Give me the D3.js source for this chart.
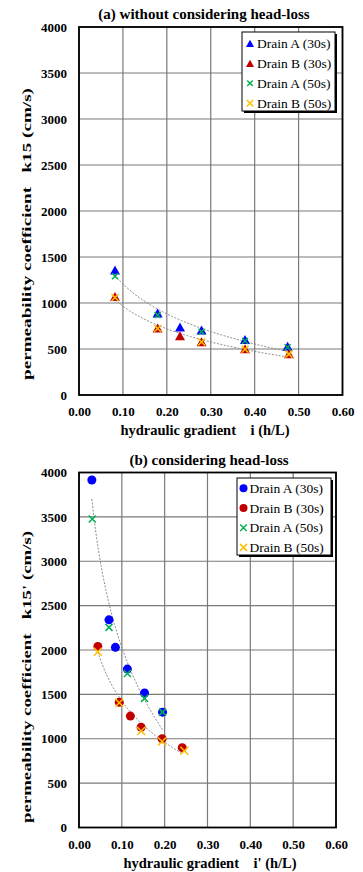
<!DOCTYPE html>
<html>
<head>
<meta charset="utf-8">
<script src="https://cdn.jsdelivr.net/npm/d3@7"></script>
<style>
  body { margin: 0; background: #fff; }
</style>
</head>
<body>
<div id="chart"></div>
<script>
const seriesNames = ['Drain A (30s)', 'Drain B (30s)', 'Drain A (50s)', 'Drain B (50s)'];
const seriesColors = ['#0000ff', '#c00000', '#00b050', '#ffc000'];
const xTickValues = [0, 0.1, 0.2, 0.3, 0.4, 0.5, 0.6];
const yTickValues = [0, 500, 1000, 1500, 2000, 2500, 3000, 3500, 4000];

// (a) without considering head-loss
const gradA30 = [0.082, 0.179, 0.230, 0.279, 0.378, 0.475];
const permA30 = [1360, 890, 740, 707, 603, 530];
const gradB30 = [0.082, 0.179, 0.230, 0.279, 0.378, 0.478];
const permB30 = [1070, 728, 643, 580, 503, 448];
const gradA50 = [0.082, 0.179, 0.279, 0.378, 0.475];
const permA50 = [1290, 870, 688, 587, 520];
const gradB50 = [0.082, 0.179, 0.279, 0.378, 0.478];
const permB50 = [1060, 722, 576, 497, 444];

// (b) considering head-loss
const gradA30h = [0.030, 0.070, 0.085, 0.113, 0.153, 0.195];
const permA30h = [3915, 2340, 2030, 1785, 1515, 1300];
const gradB30h = [0.044, 0.094, 0.120, 0.145, 0.194, 0.241];
const permB30h = [2040, 1410, 1255, 1130, 1000, 900];
const gradA50h = [0.031, 0.070, 0.113, 0.153, 0.195];
const permA50h = [3475, 2255, 1735, 1455, 1300];
const gradB50h = [0.044, 0.094, 0.145, 0.194, 0.246];
const permB50h = [1980, 1405, 1088, 968, 865];

const serif = "'Liberation Serif', 'Times New Roman', 'DejaVu Serif', serif";

const svg = d3
  .select('#chart')
  .append('svg')
  .attr('width', 363)
  .attr('height', 872)
  .style('font-family', serif);

function zip(xs, ys) {
  return xs.map((v, i) => ({ i: v, k: ys[i] }));
}

// least squares fit of k = a + b*ln(i), like the excel log trendline
function logFit(pts) {
  const lx = pts.map((d) => Math.log(d.i));
  const mx = d3.mean(lx);
  const my = d3.mean(pts, (d) => d.k);
  let sxy = 0,
    sxx = 0;
  pts.forEach((d, j) => {
    sxy += (lx[j] - mx) * (d.k - my);
    sxx += (lx[j] - mx) * (lx[j] - mx);
  });
  const b = sxy / sxx;
  return { a: my - b * mx, b: b };
}

function markerPath(shape, s) {
  if (shape === 'tri') {
    return `M0,${-s * 0.45}L${s / 2},${s * 0.45}L${-s / 2},${s * 0.45}Z`;
  }
  const h = s / 2;
  return `M${-h},${-h}L${h},${h}M${-h},${h}L${h},${-h}`;
}

function drawMarker(g, shape, color, size, cx, cy) {
  if (shape === 'circle') {
    g.append('circle')
      .attr('cx', cx)
      .attr('cy', cy)
      .attr('r', size / 2)
      .attr('fill', color);
  } else if (shape === 'tri') {
    g.append('path')
      .attr('transform', `translate(${cx},${cy})`)
      .attr('d', markerPath('tri', size))
      .attr('fill', color);
  } else {
    g.append('path')
      .attr('transform', `translate(${cx},${cy})`)
      .attr('d', markerPath('x', size))
      .attr('fill', 'none')
      .attr('stroke', color)
      .attr('stroke-width', 1.5);
  }
}

function label(sel, size, bold) {
  return sel
    .style('font-family', serif)
    .style('font-size', size + 'px')
    .style('font-weight', bold ? 'bold' : 'normal')
    .attr('fill', '#000');
}

function drawPanel(p) {
  const x = d3.scaleLinear().domain([0, 0.6]).range([p.left, p.right]);
  const y = d3.scaleLinear().domain([0, 4000]).range([p.bottom, p.top]);
  const g = svg.append('g');

  // grid
  g.selectAll('.hgrid')
    .data(yTickValues)
    .join('line')
    .attr('x1', p.left)
    .attr('x2', p.right)
    .attr('y1', (d) => y(d))
    .attr('y2', (d) => y(d))
    .attr('stroke', '#7a7a7a')
    .attr('stroke-width', 1.2);
  g.selectAll('.vgrid')
    .data(xTickValues)
    .join('line')
    .attr('x1', (d) => x(d))
    .attr('x2', (d) => x(d))
    .attr('y1', p.top)
    .attr('y2', p.bottom)
    .attr('stroke', '#7a7a7a')
    .attr('stroke-width', 1.2);

  // axes (labels only)
  const xa = g
    .append('g')
    .attr('transform', `translate(0,${p.bottom})`)
    .call(
      d3.axisBottom(x).tickValues(xTickValues).tickSize(0).tickPadding(12).tickFormat(d3.format('.2f'))
    );
  xa.select('.domain').remove();
  label(xa.attr('font-family', null).selectAll('text'), 13, true);

  const ya = g
    .append('g')
    .attr('transform', `translate(${p.left},0)`)
    .call(d3.axisLeft(y).tickValues(yTickValues).tickSize(0).tickPadding(12).tickFormat(d3.format('d')));
  ya.select('.domain').remove();
  label(ya.attr('font-family', null).selectAll('text'), 13, true);

  // trend lines for the 30s series
  p.series
    .filter((s) => s.trend)
    .forEach((s) => {
      const fit = logFit(s.pts);
      const [x0, x1] = d3.extent(s.pts, (d) => d.i);
      const samples = d3.range(61).map((j) => x0 + ((x1 - x0) * j) / 60);
      g.append('path')
        .datum(samples)
        .attr('fill', 'none')
        .attr('stroke', '#8c8c8c')
        .attr('stroke-width', 1)
        .attr('stroke-dasharray', '2,1.5')
        .attr('d', d3.line().x((d) => x(d)).y((d) => y(fit.a + fit.b * Math.log(d))));
    });

  // plot border
  g.append('rect')
    .attr('x', p.left)
    .attr('y', p.top)
    .attr('width', p.right - p.left)
    .attr('height', p.bottom - p.top)
    .attr('fill', 'none')
    .attr('stroke', '#000')
    .attr('stroke-width', 1.8);

  // points
  p.series.forEach((s) => {
    s.pts.forEach((d) => drawMarker(g, s.shape, s.color, s.size, x(d.i), y(d.k)));
  });

  // legend
  const L = p.legend;
  g.append('rect')
    .attr('x', L.x + 2)
    .attr('y', L.y + 2)
    .attr('width', L.w)
    .attr('height', L.h)
    .attr('fill', '#000');
  g.append('rect')
    .attr('x', L.x)
    .attr('y', L.y)
    .attr('width', L.w)
    .attr('height', L.h)
    .attr('fill', '#fff')
    .attr('stroke', '#000')
    .attr('stroke-width', 1);
  p.series.forEach((s, j) => {
    const ry = L.row0 + j * L.step;
    drawMarker(g, s.shape, s.color, s.legendSize, L.markX, ry);
    label(g.append('text'), 13.5, false)
      .attr('x', L.textX)
      .attr('y', ry)
      .attr('dy', '0.35em')
      .text(s.name);
  });

  // titles
  label(g.append('text'), 15, true)
    .attr('x', p.titleX)
    .attr('y', p.titleY)
    .attr('text-anchor', 'middle')
    .text(p.title);
  label(g.append('text'), 14.5, true)
    .attr('x', p.xLabelX)
    .attr('y', p.xLabelY)
    .attr('text-anchor', 'middle')
    .text(p.xLabel);
  label(g.append('text'), 13.5, true)
    .attr('transform', `translate(31,${p.yLabelY}) rotate(-90)`)
    .attr('text-anchor', 'middle')
    .attr('textLength', 292)
    .attr('lengthAdjust', 'spacingAndGlyphs')
    .text(p.yLabel);
}

drawPanel({
  top: 27,
  bottom: 395,
  left: 79,
  right: 342.5,
  title: '(a) without considering head-loss',
  titleX: 204,
  titleY: 18.5,
  xLabel: 'hydraulic gradient\u00a0\u00a0\u00a0\u00a0i (h/L)',
  xLabelX: 205,
  xLabelY: 435,
  yLabel: 'permeability coefficient\u00a0\u00a0\u00a0k15 (cm/s)',
  yLabelY: 234,
  legend: { x: 242, y: 32, w: 93, h: 79, row0: 43.3, step: 20, markX: 250, textX: 257 },
  series: [
    { name: seriesNames[0], color: seriesColors[0], shape: 'tri', size: 10, legendSize: 8, pts: zip(gradA30, permA30), trend: true },
    { name: seriesNames[1], color: seriesColors[1], shape: 'tri', size: 10, legendSize: 8, pts: zip(gradB30, permB30), trend: true },
    { name: seriesNames[2], color: seriesColors[2], shape: 'x', size: 6, legendSize: 5.5, pts: zip(gradA50, permA50) },
    { name: seriesNames[3], color: seriesColors[3], shape: 'x', size: 7, legendSize: 6.5, pts: zip(gradB50, permB50) },
  ],
});

drawPanel({
  top: 472.5,
  bottom: 827.5,
  left: 79,
  right: 336,
  title: '(b) considering head-loss',
  titleX: 209,
  titleY: 465,
  xLabel: "hydraulic gradient\u00a0\u00a0\u00a0\u00a0i' (h/L)",
  xLabelX: 210,
  xLabelY: 868,
  yLabel: "permeability coefficient\u00a0\u00a0\u00a0k15' (cm/s)",
  yLabelY: 677,
  legend: { x: 237, y: 478, w: 94, h: 77, row0: 488.3, step: 19.7, markX: 243.5, textX: 249.5 },
  series: [
    { name: seriesNames[0], color: seriesColors[0], shape: 'circle', size: 9, legendSize: 8, pts: zip(gradA30h, permA30h), trend: true },
    { name: seriesNames[1], color: seriesColors[1], shape: 'circle', size: 9, legendSize: 8, pts: zip(gradB30h, permB30h), trend: true },
    { name: seriesNames[2], color: seriesColors[2], shape: 'x', size: 7, legendSize: 6.5, pts: zip(gradA50h, permA50h) },
    { name: seriesNames[3], color: seriesColors[3], shape: 'x', size: 8, legendSize: 7, pts: zip(gradB50h, permB50h) },
  ],
});
</script>
</body>
</html>
